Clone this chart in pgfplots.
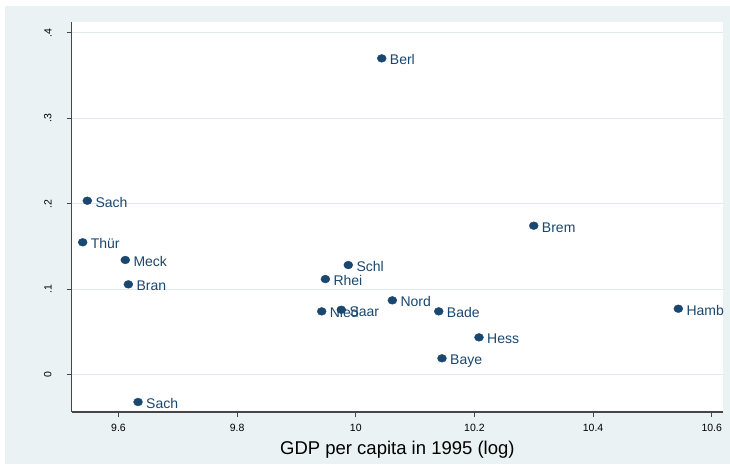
\documentclass[border=0pt]{standalone}
\usepackage{pgfplots}
\pgfplotsset{compat=1.18}
\usepackage{fontspec}
\setmainfont{Liberation Sans}
\definecolor{stbg}{RGB}{234,242,243}
\definecolor{stgrid}{RGB}{224,234,236}
\definecolor{stnavy}{RGB}{26,71,111}
\definecolor{staxis}{RGB}{70,70,70}
\begin{document}
\begin{tikzpicture}
\useasboundingbox (0pt,0pt) rectangle (730pt,464pt);
\fill[white] (0pt,0pt) rectangle (730pt,464pt);
\fill[stbg] (5pt,0pt) rectangle (730pt,458pt);
\begin{axis}[
  at={(71.7pt,52pt)}, anchor=south west,
  scale only axis, width=651.3pt, height=390.3pt,
  xmin=9.5211, xmax=10.619, ymin=-0.0436, ymax=0.4129,
  axis x line*=bottom, axis y line*=left,
  axis line style={staxis, line width=1.2pt, -},
  axis background/.style={fill=white},
  xtick={9.6,9.8,10,10.2,10.4,10.6},
  xticklabels={9.6,9.8,10,10.2,10.4,10.6},
  ytick={0,0.1,0.2,0.3,0.4},
  yticklabels={0,.1,.2,.3,.4},
  tick align=outside, major tick length=5pt,
  tick style={staxis, line width=0.9pt},
  ymajorgrids, grid style={stgrid, line width=0.9pt},
  xticklabel style={font=\fontsize{10.5}{12}\selectfont, inner sep=0pt, anchor=north, yshift=-7pt},
  yticklabel style={font=\fontsize{10.5}{12}\selectfont, inner sep=0pt, rotate=90, anchor=south, yshift=15pt},
  xlabel={GDP per capita in 1995 (log)},
  xlabel style={at={(axis description cs:0.5,0)}, anchor=base, inner sep=0pt, yshift=-42.3pt, font=\fontsize{18.5}{20}\selectfont},
  clip=false,
]
\addplot[only marks, mark=*, mark size=3.9pt,
  mark options={fill=stnavy, draw=stnavy, xscale=1.15},
  point meta=explicit symbolic,
  nodes near coords,
  every node near coord/.append style={anchor=base west, inner sep=0pt, xshift=8pt, yshift=-6.5pt, font=\fontsize{14}{16}\selectfont, text=stnavy},
] table[meta=label] {
x y label
9.5474 0.2035 Sach
9.5396 0.1549 Thür
9.6115 0.1342 Meck
9.6166 0.1057 Bran
9.6329 -0.0319 Sach
9.9874 0.1283 Schl
9.9487 0.1119 Rhei
9.9425 0.0741 Nied
9.9756 0.0760 Saar
10.0616 0.0870 Nord
10.1398 0.0741 Bade
10.2077 0.0437 Hess
10.1453 0.0192 Baye
10.3000 0.1743 Brem
10.5437 0.0772 Hamb
10.0437 0.3700 Berl
};
\end{axis}
\end{tikzpicture}
\end{document}
